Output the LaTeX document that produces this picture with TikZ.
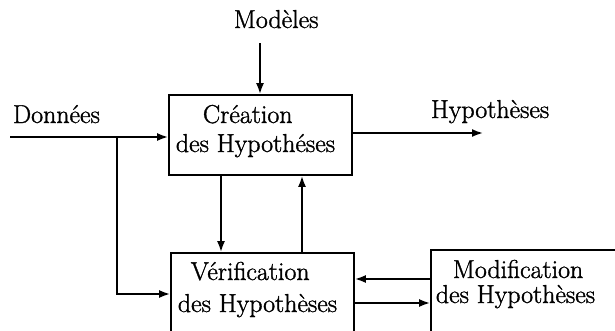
\documentclass[tikz,border=0pt]{standalone}
\usepackage{fontspec}
\newfontfamily\heavyserif{Latin Modern Roman}[FakeBold=1.3]
\usetikzlibrary{arrows.meta}
\begin{document}
\begin{tikzpicture}[x=1pt,y=-1pt,
  line width=1.8pt,
  every node/.style={font=\heavyserif\fontsize{25.9}{30}\selectfont, inner sep=0pt},
  box/.style={draw, rectangle, line width=1.8pt},
  lbl/.style={anchor=base west},
  flow/.style={-{Latex[length=11pt,width=8pt]}}]
\useasboundingbox (0,0) rectangle (615,330);
\clip (0,0) rectangle (615,330);

% process boxes
\node[box, minimum width=183pt, minimum height=80pt] (cre) at (260.5,135) {};
\node[box, minimum width=183pt, minimum height=92pt] (ver) at (262.5,299) {};
\node[box, minimum width=194pt, minimum height=95pt] (mod) at (528,297.5) {};

% box captions
\node[lbl] (creA) at (202,123) {Création};
\node[lbl] (creB) at (175,152) {des Hypothéses};
\node[lbl] (verA) at (190,280) {Vérification};
\node[lbl] (verB) at (177,312) {des Hypothèses};
\node[lbl] (modA) at (452,278) {Modification};
\node[lbl] (modB) at (435,303) {des Hypothèses};

% inputs and outputs
\node[lbl] (modeles) at (233,28) {Modèles};
\node[lbl] (donnees) at (12,123) {Données};
\node[lbl] (hyp) at (430,118) {Hypothèses};

\coordinate (mIn) at (260,43);
\coordinate (dIn) at (10,137);
\coordinate (split) at (117,137);
\coordinate (turn) at (117,294);
\coordinate (hOut) at (483,133);

% connectors
\draw[flow] (mIn) -- (mIn |- cre.north);
\draw[flow] (dIn) -- (dIn -| cre.west);
\draw[flow] (split) -- (turn) -- (turn -| ver.west);
\draw[flow] (hOut -| cre.east) -- (hOut);
\draw[flow] (221,0 |- cre.south) -- (221,0 |- ver.north);
\draw[flow] (302,0 |- ver.north) -- (302,0 |- cre.south);
\draw[flow] (mod.west |- 0,279) -- (ver.east |- 0,279);
\draw[flow] (ver.east |- 0,303) -- (mod.west |- 0,303);
\end{tikzpicture}
\end{document}
